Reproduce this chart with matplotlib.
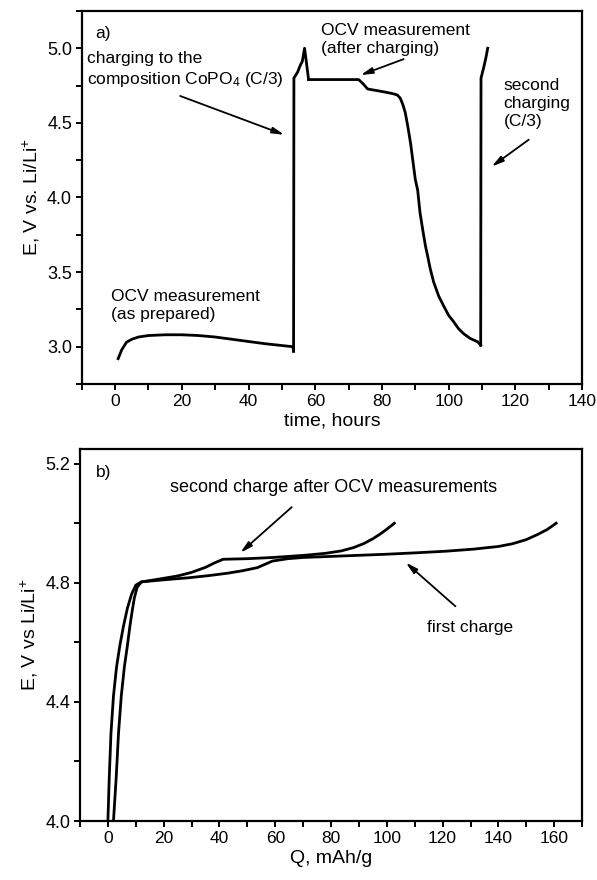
import matplotlib
matplotlib.use("Agg")
import matplotlib.pyplot as plt
from matplotlib.ticker import MultipleLocator

plt.rcParams['font.family'] = ['Liberation Sans', 'DejaVu Sans']
plt.rcParams['mathtext.fontset'] = 'custom'
plt.rcParams['mathtext.rm'] = 'Liberation Sans'
plt.rcParams['mathtext.it'] = 'Liberation Sans:italic'

# panel a) potential vs time (read off the picture)
ocv_t = [0.9, 2, 3.4, 5, 7, 10, 15, 20, 25, 30, 35, 40, 45, 50, 53.3, 53.5]
ocv_e = [2.92, 2.98, 3.03, 3.05, 3.065, 3.075, 3.08, 3.08, 3.075, 3.065, 3.05, 3.035, 3.02, 3.008, 3.0, 2.97]

chg1_t = [53.5, 53.6, 54.7, 55.6, 56.1, 56.8, 58.0]
chg1_e = [2.97, 4.80, 4.84, 4.89, 4.91, 5.00, 4.79]

ocv2_t = [58.0, 65, 71.2, 73, 74.2, 75.7, 80, 83, 84.6, 85.5, 86.3, 87.0, 87.8, 88.6, 89.3, 90.0, 90.7,
          91.4, 92.2, 93.0, 93.7, 94.5, 95.5, 97.0, 98.5, 100, 101.5, 103, 104.5, 106.5, 108.7, 109.6]
ocv2_e = [4.79, 4.79, 4.79, 4.79, 4.765, 4.727, 4.71, 4.697, 4.687, 4.665, 4.62, 4.567, 4.47, 4.36, 4.24, 4.12, 4.05,
          3.90, 3.787, 3.68, 3.607, 3.52, 3.433, 3.34, 3.273, 3.21, 3.167, 3.12, 3.087, 3.055, 3.033, 3.01]

chg2_t = [109.6, 109.7, 110.5, 111.2, 111.7]
chg2_e = [3.01, 4.80, 4.87, 4.94, 5.0]

# panel b) potential vs capacity
q_first = [2.0, 3.0, 3.8, 4.8, 5.9, 7.0, 7.9, 8.7, 9.5, 10.5, 12, 20, 29, 36, 42.7, 48, 53.6, 59, 64.5, 70,
           83.6, 100, 111, 121, 131, 140, 145, 150, 154, 157.5, 160.7]
e_first = [4.0, 4.15, 4.294, 4.42, 4.517, 4.59, 4.655, 4.705, 4.75, 4.785, 4.803, 4.81, 4.817, 4.824, 4.832, 4.84,
           4.851, 4.873, 4.881, 4.885, 4.89, 4.896, 4.901, 4.906, 4.913, 4.922, 4.931, 4.945, 4.962, 4.979, 5.0]

q_second = [0.0, 0.5, 1.1, 2.0, 3.1, 4.3, 5.6, 7.0, 8.5, 10.0, 12, 18, 25, 30, 35, 38.5, 41.3, 50, 59,
            70, 78, 83.6, 88, 91.8, 95, 97.5, 100, 102.7]
e_second = [4.0, 4.15, 4.294, 4.42, 4.517, 4.59, 4.655, 4.715, 4.762, 4.792, 4.803, 4.812, 4.823, 4.835, 4.852,
            4.868, 4.879, 4.881, 4.885, 4.892, 4.899, 4.907, 4.918, 4.932, 4.948, 4.963, 4.98, 5.0]

fig = plt.figure(figsize=(5.97, 8.8), dpi=100)
ax1 = fig.add_axes([0.137, 0.5636, 0.838, 0.424])
ax2 = fig.add_axes([0.134, 0.067, 0.841, 0.423])

lw = 2.0
for t, e in [(ocv_t, ocv_e), (chg1_t, chg1_e), (ocv2_t, ocv2_e), (chg2_t, chg2_e)]:
    ax1.plot(t, e, color='black', lw=lw, solid_joinstyle='round')

ax2.plot(q_first, e_first, color='black', lw=lw)
ax2.plot(q_second, e_second, color='black', lw=lw)

for ax in (ax1, ax2):
    for s in ax.spines.values():
        s.set_linewidth(1.6)
    ax.tick_params(which='both', direction='out', width=1.4, length=4.5, labelsize=12.5, pad=2.5)
    ax.tick_params(axis='y', labelsize=13)
    ax.xaxis.set_minor_locator(MultipleLocator(10))
    ax.xaxis.set_major_locator(MultipleLocator(20))

ax1.set_xlim(-10, 140)
ax1.set_ylim(2.75, 5.25)
ax1.yaxis.set_major_locator(MultipleLocator(0.5))
ax1.yaxis.set_minor_locator(MultipleLocator(0.25))
ax1.yaxis.set_major_formatter(plt.FormatStrFormatter('%.1f'))
ax1.set_xlabel('time, hours', fontsize=14, labelpad=3)
ax1.set_ylabel('E, V vs. Li/Li$^{+}$', fontsize=14, labelpad=4)

ax2.set_xlim(-10, 170)
ax2.set_ylim(4.0, 5.25)
ax2.yaxis.set_major_locator(MultipleLocator(0.4))
ax2.yaxis.set_minor_locator(MultipleLocator(0.2))
ax2.yaxis.set_major_formatter(plt.FormatStrFormatter('%.1f'))
ax2.set_xlabel('Q, mAh/g', fontsize=14, labelpad=3)
ax2.set_ylabel('E, V vs Li/Li$^{+}$', fontsize=14, labelpad=4)

fs = 12.5
ls = 1.25
arrow = dict(arrowstyle='-|>,head_length=0.7,head_width=0.18', color='black', lw=1.3,
             shrinkA=0, shrinkB=0)

ax1.text(-6, 5.10, 'a)', fontsize=fs, va='center')
ax1.text(-8.3, 4.852, 'charging to the\ncomposition CoPO$_4$ (C/3)', fontsize=fs,
         va='center', linespacing=1.3)
ax1.annotate('', xy=(50.7, 4.42), xytext=(19.5, 4.68), arrowprops=arrow)
ax1.text(61.8, 5.06, 'OCV measurement\n(after charging)', fontsize=fs, va='center', linespacing=ls)
ax1.annotate('', xy=(73.6, 4.82), xytext=(86.5, 4.927), arrowprops=arrow)
ax1.text(116.5, 4.627, 'second\ncharging\n(C/3)', fontsize=fs, va='center', linespacing=ls)
ax1.annotate('', xy=(112.9, 4.207), xytext=(124, 4.387), arrowprops=arrow)
ax1.text(-1.2, 3.277, 'OCV measurement\n(as prepared)', fontsize=fs, va='center', linespacing=ls)

ax2.text(-4.4, 5.172, 'b)', fontsize=fs, va='center')
ax2.text(80.9, 5.121, 'second charge after OCV measurements', fontsize=13, va='center', ha='center')
ax2.annotate('', xy=(47.5, 4.901), xytext=(65.9, 5.054), arrowprops=arrow)
ax2.text(130, 4.651, 'first charge', fontsize=fs, va='center', ha='center')
ax2.annotate('', xy=(106.8, 4.868), xytext=(124.6, 4.721), arrowprops=arrow)

fig.savefig('out.png', dpi=100)
